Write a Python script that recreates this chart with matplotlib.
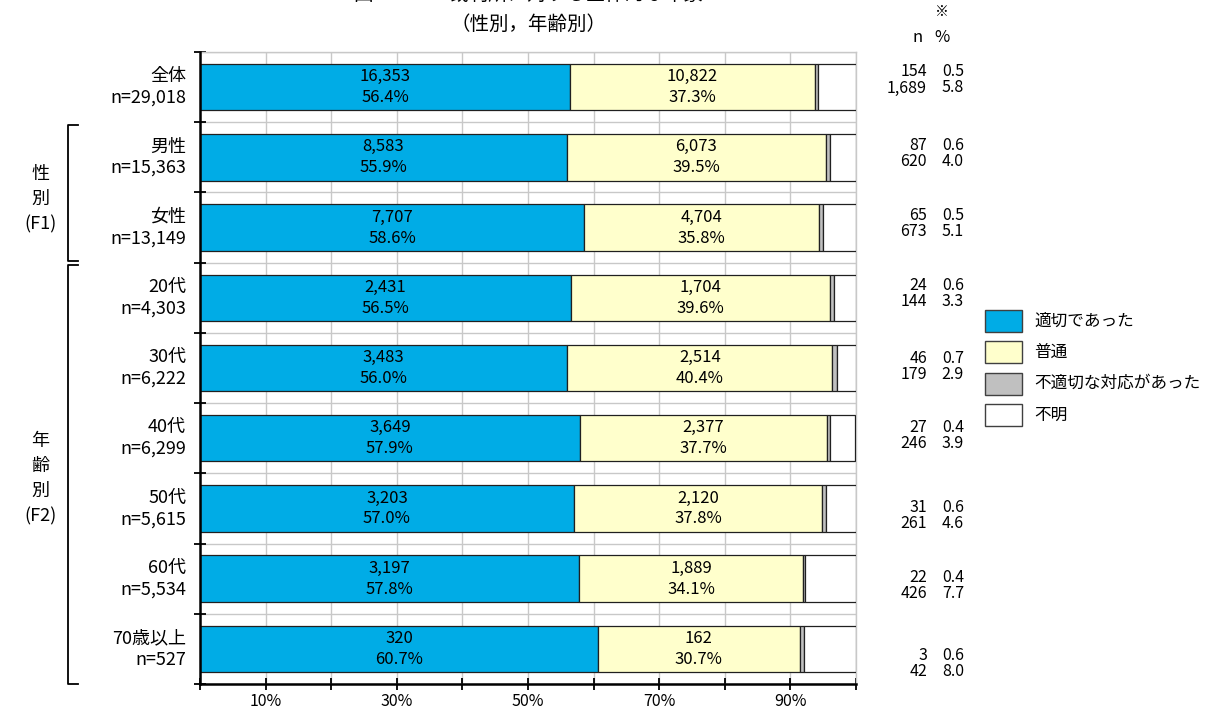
import matplotlib
matplotlib.use("Agg")
import matplotlib.pyplot as plt
from matplotlib.lines import Line2D
from matplotlib.patches import Rectangle

plt.rcParams['font.family'] = ['Noto Sans CJK JP', 'DejaVu Sans']

# data
categories = ["全体", "男性", "女性", "20代", "30代", "40代", "50代", "60代", "70歳以上"]
totals = ["29,018", "15,363", "13,149", "4,303", "6,222", "6,299", "5,615", "5,534", "527"]
series_names = ["適切であった", "普通", "不適切な対応があった", "不明"]

n_good = [16353, 8583, 7707, 2431, 3483, 3649, 3203, 3197, 320]
pct_good = [56.4, 55.9, 58.6, 56.5, 56.0, 57.9, 57.0, 57.8, 60.7]
n_normal = [10822, 6073, 4704, 1704, 2514, 2377, 2120, 1889, 162]
pct_normal = [37.3, 39.5, 35.8, 39.6, 40.4, 37.7, 37.8, 34.1, 30.7]
n_bad = [154, 87, 65, 24, 46, 27, 31, 22, 3]
pct_bad = [0.5, 0.6, 0.5, 0.6, 0.7, 0.4, 0.6, 0.4, 0.6]
n_unknown = [1689, 620, 673, 144, 179, 246, 261, 426, 42]
pct_unknown = [5.8, 4.0, 5.1, 3.3, 2.9, 3.9, 4.6, 7.7, 8.0]

colors = ["#00ACE6", "#FFFFCC", "#C0C0C0", "#FFFFFF"]

W, H = 1221, 713
fig = plt.figure(figsize=(W / 100, H / 100), dpi=100)

def fx(px):
    return px / W

def fy(py):
    return 1 - py / H

ax = fig.add_axes([fx(200), fy(684), fx(856) - fx(200), fy(52) - fy(684)])

ypos = list(range(len(categories)))
pcts = [pct_good, pct_normal, pct_bad, pct_unknown]
left = [0.0] * len(categories)
for vals, col in zip(pcts, colors):
    ax.barh(ypos, vals, left=left, height=0.66, color=col,
            edgecolor="#202020", linewidth=0.9, zorder=3)
    left = [l + v for l, v in zip(left, vals)]

# labels inside bars
for i in ypos:
    ax.text(pct_good[i] / 2, i, f"{n_good[i]:,}\n{pct_good[i]:.1f}%",
            ha="center", va="center", fontsize=12, linespacing=1.3, zorder=4)
    ax.text(pct_good[i] + pct_normal[i] / 2, i, f"{n_normal[i]:,}\n{pct_normal[i]:.1f}%",
            ha="center", va="center", fontsize=12, linespacing=1.3, zorder=4)

ax.set_xlim(0, 100)
ax.set_ylim(len(categories) - 0.5, -0.5)

ax.set_xticks(range(0, 101, 10))
ax.set_xticklabels(["" if t % 20 == 0 else f"{t}%" for t in range(0, 101, 10)])
ax.set_yticks([k - 0.5 for k in range(len(categories) + 1)])
ax.set_yticklabels([])
ax.tick_params(axis="x", direction="inout", length=9, width=1.3, labelsize=11.5, pad=2)
ax.tick_params(axis="y", direction="inout", length=8, width=1.3)

ax.grid(True, color="#C8C8C8", linewidth=1.0, zorder=0)
for s in ["top", "right"]:
    ax.spines[s].set_color("#C8C8C8")
    ax.spines[s].set_linewidth(1.0)
for s in ["left", "bottom"]:
    ax.spines[s].set_color("black")
    ax.spines[s].set_linewidth(1.8)
    ax.spines[s].set_zorder(5)

# category labels
for i, (c, t) in enumerate(zip(categories, totals)):
    ax.annotate(f"{c}\nn={t}", xy=(0, i), xycoords=("axes fraction", "data"),
                xytext=(-10, 0), textcoords="offset points",
                ha="right", va="center", multialignment="right",
                fontsize=13, linespacing=1.25)

# group labels and brackets
fig.text(fx(40), fy(199), "性\n別\n(F1)", ha="center", va="center",
         fontsize=13, linespacing=1.5)
fig.text(fx(40), fy(479), "年\n齢\n別\n(F2)", ha="center", va="center",
         fontsize=13, linespacing=1.5)
for top, bot in [(125, 261), (265, 684)]:
    xs = [fx(78), fx(68), fx(68), fx(78)]
    ys = [fy(top), fy(top), fy(bot), fy(bot)]
    fig.add_artist(Line2D(xs, ys, color="black", linewidth=1.3))

# right column (n and %)
row_y = [72, 145, 216, 286, 358, 428, 508, 578, 656]
fig.text(fx(942), fy(12), "※", ha="center", va="center", fontsize=10)
fig.text(fx(918), fy(37), "n", ha="center", va="center", fontsize=12)
fig.text(fx(942), fy(37), "%", ha="center", va="center", fontsize=12)
for i, y in enumerate(row_y):
    fig.text(fx(927), fy(y), f"{n_bad[i]:,}", ha="right", va="center", fontsize=11.5)
    fig.text(fx(964), fy(y), f"{pct_bad[i]:.1f}", ha="right", va="center", fontsize=11.5)
    fig.text(fx(927), fy(y + 16), f"{n_unknown[i]:,}", ha="right", va="center", fontsize=11.5)
    fig.text(fx(964), fy(y + 16), f"{pct_unknown[i]:.1f}", ha="right", va="center", fontsize=11.5)

# legend
for k, (name, col) in enumerate(zip(series_names, colors)):
    cy = 321 + k * 31.3
    fig.add_artist(Rectangle((fx(985), fy(cy + 11)), fx(37), 22 / H,
                             facecolor=col, edgecolor="#404040", linewidth=1.0))
    fig.text(fx(1034), fy(cy), name, ha="left", va="center", fontsize=12)

# title
fig.text(fx(528), fy(-6), "図5－5－2 裁判所に対する全体的な印象",
         ha="center", va="center", fontsize=14)
fig.text(fx(528), fy(24), "（性別，年齢別）", ha="center", va="center", fontsize=14)

fig.savefig("out.png", dpi=100)
